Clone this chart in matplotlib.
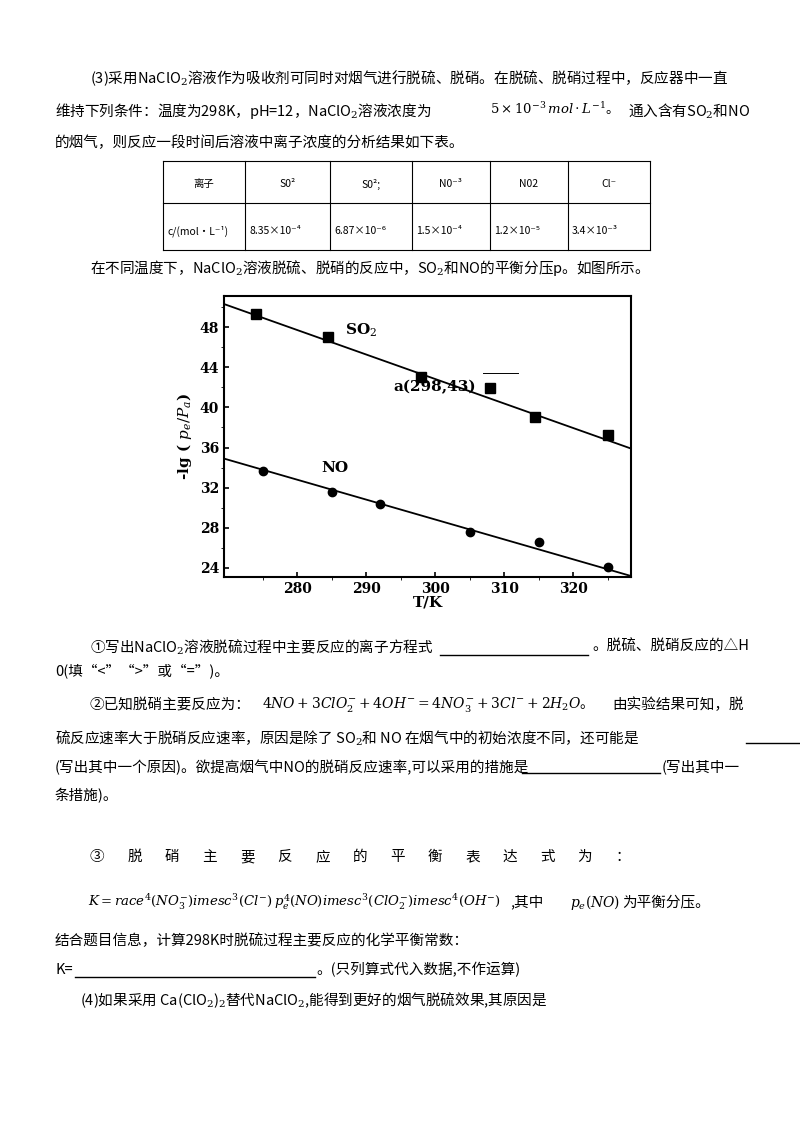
import matplotlib
matplotlib.use('Agg')
import matplotlib.pyplot as plt

plt.rcParams['font.family'] = ['Noto Sans CJK SC', 'DejaVu Sans']
plt.rcParams['mathtext.fontset'] = 'dejavuserif'

# data
so2_T = [274, 284.5, 298, 308, 314.5, 325]
so2_y = [49.3, 47.0, 43.0, 41.9, 39.0, 37.2]
no_T = [275, 285, 292, 305, 315, 325]
no_y = [33.7, 31.6, 30.4, 27.6, 26.6, 24.1]
so2_fit_T = [269.4, 328.4]
so2_fit_y = [50.3, 35.9]
no_fit_T = [269.4, 328.4]
no_fit_y = [34.9, 23.2]

table_head = ['离子', 'S0²', 'S0²;', 'N0⁻³', 'N02', 'Cl⁻']
table_vals = ['c/(mol·L⁻¹)', '8.35×10⁻⁴', '6.87×10⁻⁶', '1.5×10⁻⁴', '1.2×10⁻⁵', '3.4×10⁻³']

W, H = 800, 1132
fig = plt.figure(figsize=(W / 100, H / 100), dpi=100)
fig.patch.set_facecolor('white')


def txt(x, y, s, size=10.5, **kw):
    fig.text(x / W, 1 - y / H, s, fontsize=size, va='center', ha='left', **kw)


def hline(x0, x1, y, lw=0.8):
    fig.add_artist(plt.Line2D([x0 / W, x1 / W], [1 - y / H, 1 - y / H], color='black', lw=lw))


def vline(x, y0, y1, lw=0.8):
    fig.add_artist(plt.Line2D([x / W, x / W], [1 - y0 / H, 1 - y1 / H], color='black', lw=lw))


txt(90, 78, '(3)采用NaClO$_2$溶液作为吸收剂可同时对烟气进行脱硫、脱硝。在脱硫、脱硝过程中，反应器中一直')
txt(55, 111, '维持下列条件：温度为298K，pH=12，NaClO$_2$溶液浓度为')
txt(490, 109, r'$5\times10^{-3}\,mol\cdot L^{-1}$。', size=9.5)
txt(628, 111, '通入含有SO$_2$和NO')
txt(55, 143, '的烟气，则反应一段时间后溶液中离子浓度的分析结果如下表。')

# table
cols = [163, 245, 330, 412, 490, 568, 650]
rows = [161, 203, 250]
for r in rows:
    hline(cols[0], cols[-1], r)
for c in cols:
    vline(c, rows[0], rows[-1])
for i in range(6):
    cx = (cols[i] + cols[i + 1]) / 2
    fig.text(cx / W, 1 - 184 / H, table_head[i], fontsize=7.5, ha='center', va='center')
    fig.text((cols[i] + 4) / W, 1 - 231 / H, table_vals[i], fontsize=7.5, ha='left', va='center')

txt(90, 268, '在不同温度下，NaClO$_2$溶液脱硫、脱硝的反应中，SO$_2$和NO的平衡分压p。如图所示。')

# chart
ax = fig.add_axes([224 / W, 1 - 577 / H, (631 - 224) / W, (577 - 296) / H])
ax.plot(so2_T, so2_y, 's', color='black', ms=7)
ax.plot(no_T, no_y, 'o', color='black', ms=6)
ax.plot(so2_fit_T, so2_fit_y, color='black', lw=1.3)
ax.plot(no_fit_T, no_fit_y, color='black', lw=1.3)
ax.plot([307, 312], [43.4, 43.4], color='black', lw=0.7)
ax.set_xlim(269.4, 328.4)
ax.set_ylim(23.1, 51.1)
ax.set_xticks([280, 290, 300, 310, 320])
ax.set_xticks([275, 285, 295, 305, 315, 325], minor=True)
ax.set_yticks([24, 28, 32, 36, 40, 44, 48])
ax.set_yticks([26, 30, 34, 38, 42, 46, 50], minor=True)
ax.tick_params(direction='in', labelsize=10, width=1.2)
for lab in ax.get_xticklabels() + ax.get_yticklabels():
    lab.set_fontweight('bold')
    lab.set_family('serif')
for s in ax.spines.values():
    s.set_linewidth(1.5)
ax.set_xlabel('T/K', fontsize=11, fontweight='bold', family='serif', labelpad=0)
ax.set_ylabel(r'-lg ( $p_e/P_a$)', fontsize=11, fontweight='bold', family='serif')
ax.text(287, 47.3, 'SO$_2$', fontsize=11, fontweight='bold', family='serif')
ax.text(294, 41.6, 'a(298,43)', fontsize=11, fontweight='bold', family='serif')
ax.text(283.5, 33.6, 'NO', fontsize=11, fontweight='bold', family='serif')

txt(90, 647, '①写出NaClO$_2$溶液脱硫过程中主要反应的离子方程式')
hline(440, 588, 655, lw=1)
txt(592, 647, '。脱硫、脱硝反应的△H')
txt(55, 671, '0(填“<”“>”或“=”)。')
txt(90, 705, '②已知脱硝主要反应为：')
txt(262, 705, r'$4NO+3ClO_2^{-}+4OH^{-}=4NO_3^{-}+3Cl^{-}+2H_2O$。', size=10)
txt(612, 705, '由实验结果可知，脱')
txt(55, 738, '硫反应速率大于脱硝反应速率，原因是除了 SO$_2$和 NO 在烟气中的初始浓度不同，还可能是')
hline(746, 800, 743, lw=1)
txt(55, 767, '(写出其中一个原因)。欲提高烟气中NO的脱硝反应速率,可以采用的措施是')
hline(522, 660, 773, lw=1)
txt(662, 767, '(写出其中一')
txt(55, 796, '条措施)。')

for i, ch in enumerate('③脱硝主要反应的平衡表达式为：'):
    txt(90 + i * 37.5, 857, ch)
txt(88, 902, r'$K=race^{4}(NO_3^{-})imesc^{3}(Cl^{-})\,p_e^{4}(NO)imesc^{3}(ClO_2^{-})imesc^{4}(OH^{-})$', size=9.5)
txt(510, 902, ',其中')
txt(570, 902, r'$p_e(NO)$', size=10)
txt(622, 902, '为平衡分压。')
txt(55, 941, '结合题目信息，计算298K时脱硫过程主要反应的化学平衡常数：')
txt(55, 970, 'K=')
hline(75, 315, 977, lw=1)
txt(316, 970, '。(只列算式代入数据,不作运算)')
txt(80, 1000, '(4)如果采用 Ca(ClO$_2$)$_2$替代NaClO$_2$,能得到更好的烟气脱硫效果,其原因是')

fig.savefig('out.png', dpi=100)
